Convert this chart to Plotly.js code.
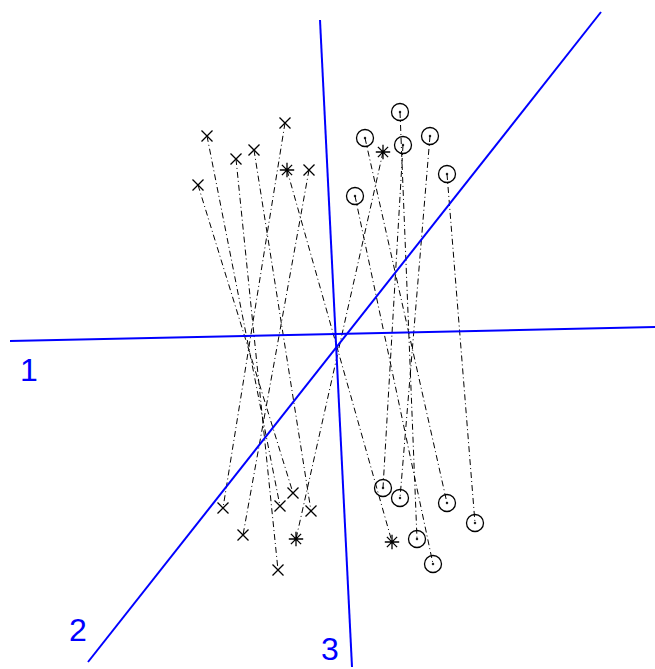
<!DOCTYPE html>
<html>
<head>
<meta charset="utf-8">
<script src="https://cdn.plot.ly/plotly-3.0.1.min.js"></script>
<style>
  html, body { margin: 0; padding: 0; background: #fff; }
  #plot { width: 655px; height: 669px; }
</style>
</head>
<body>
<div id="plot"></div>
<script>
"use strict";
// projected positions (screen units) of the two ends of each segment
var topX = [198, 207, 236, 254, 285, 309, 287, 383, 355, 365, 400, 403, 430, 447];
var topY = [185, 136, 159, 150, 123, 170, 170, 152, 196, 138, 112, 145, 136, 174];
var botX = [293, 280, 278, 311, 223, 243, 392, 296, 433, 447, 417, 383, 400, 475];
var botY = [493, 506, 570, 511, 508, 535, 542, 539, 564, 503, 539, 488, 498, 523];
var kinds = ['x', 'x', 'x', 'x', 'x', 'x', '*', '*', 'o', 'o', 'o', 'o', 'o', 'o'];

// axis lines and their labels
var axisNames = ['1', '2', '3'];
var axisFrom = [[10, 341], [88, 662], [320, 20]];
var axisTo = [[655, 327], [601, 12], [352, 667]];
var labelX = [29, 78, 330];
var labelY = [370, 630, 649];

var symbolFor = { 'x': 'x-thin-open', '*': 'asterisk-open', 'o': 'circle-open-dot' };
var sizeFor = { 'x': 11, '*': 12, 'o': 17 };

var traces = [];

// dash-dot segments
var segX = [], segY = [];
for (var i = 0; i < topX.length; i++) {
	segX.push(topX[i], botX[i], null);
	segY.push(topY[i], botY[i], null);
}
traces.push({
	x: segX, y: segY,
	type: 'scatter', mode: 'lines',
	line: { color: '#000', width: 1, dash: '6px,3px,1px,3px' },
	hoverinfo: 'skip'
});

// markers by kind
['x', '*', 'o'].forEach(function(k) {
	var mx = [], my = [];
	for (var i = 0; i < kinds.length; i++) {
		if (kinds[i] !== k) continue;
		mx.push(topX[i], botX[i]);
		my.push(topY[i], botY[i]);
	}
	traces.push({
		x: mx, y: my,
		type: 'scatter', mode: 'markers',
		marker: {
			symbol: symbolFor[k],
			size: sizeFor[k],
			color: '#000',
			line: { color: '#000', width: 1.3 }
		}
	});
});

// blue axes
for (var a = 0; a < axisNames.length; a++) {
	traces.push({
		x: [axisFrom[a][0], axisTo[a][0]],
		y: [axisFrom[a][1], axisTo[a][1]],
		type: 'scatter', mode: 'lines',
		line: { color: '#0000ff', width: 2 }
	});
}

var annotations = [];
for (var a = 0; a < axisNames.length; a++) {
	annotations.push({
		x: labelX[a], y: labelY[a],
		xref: 'x', yref: 'y',
		text: axisNames[a],
		showarrow: false,
		xanchor: 'center', yanchor: 'middle',
		font: { family: 'Liberation Sans, Arial, sans-serif', size: 32, color: '#0000ff' }
	});
}

var layout = {
	width: 655,
	height: 669,
	margin: { l: 0, r: 0, t: 0, b: 0 },
	showlegend: false,
	paper_bgcolor: '#fff',
	plot_bgcolor: '#fff',
	xaxis: { range: [0, 655], visible: false, fixedrange: true },
	yaxis: { range: [669, 0], visible: false, fixedrange: true },
	annotations: annotations
};

Plotly.newPlot(document.getElementById('plot'), traces, layout, { displayModeBar: false, staticPlot: true });
</script>
</body>
</html>
